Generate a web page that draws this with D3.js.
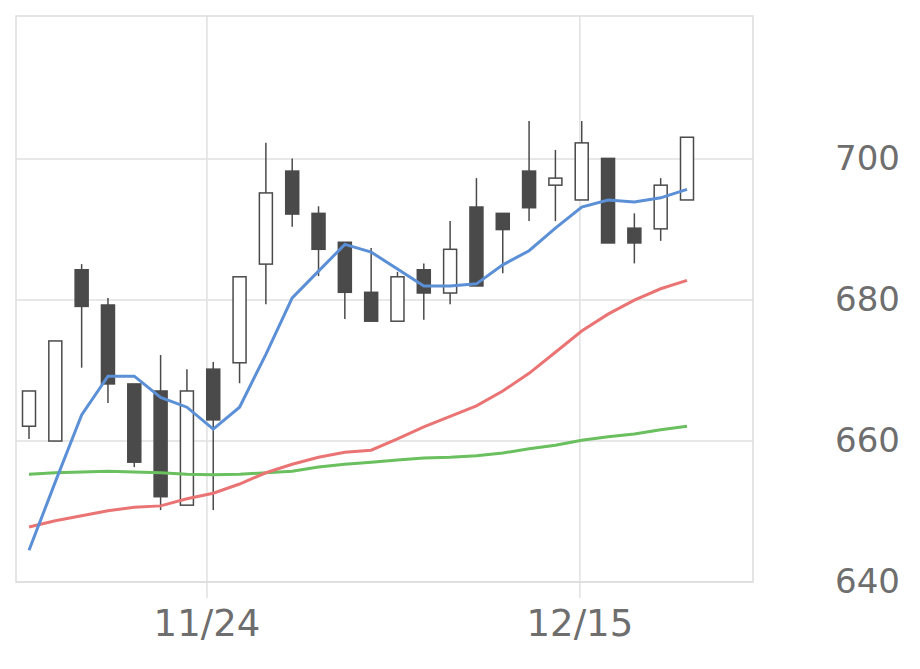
<!DOCTYPE html>
<html><head><meta charset="utf-8">
<script src="https://cdn.jsdelivr.net/npm/d3@7"></script>
<style>body{margin:0;background:#fff}</style>
</head><body><div id="chart"></div>
<script>
const opens  = [662.1,660,684.3,679.3,668.1,667.1,650.9,670.2,671.1,685.1,698.3,692.3,688.2,681.1,677,684.3,681,693.2,692.3,698.3,696.3,694.2,700.1,690.2,690.1,694.2];
const highs  = [667.1,674.2,685.1,680.3,668.1,672.2,670.2,671.2,683.3,702.3,700.1,693.3,688.2,687.4,684,685.2,691.2,697.3,692.3,705.4,701.3,705.4,700.1,692.3,697.3,703.1];
const lows   = [660.3,660,670.4,665.4,656.3,650.2,650.9,650.2,668.2,679.4,690.4,683.4,677.3,677,677,677.2,679.4,682,683.8,691.2,691.2,694.3,688.1,685.2,688.4,694.2];
const closes = [667.1,674.2,679.1,668.1,657,652.1,667.1,663,683.3,695.2,692.2,687.2,681.1,677,683.3,681,687.2,682,690,693.1,697.3,702.3,688.1,688.1,696.3,703.1];
const ma5  = [644.5,654.2,663.7,669.2,669.2,666.2,664.8,661.7,664.8,672.3,680.3,684.1,687.9,686.8,684.4,682.0,682.0,682.3,685.0,687.0,690.2,693.2,694.2,693.9,694.5,695.7];
const ma25 = [647.8,648.7,649.4,650.1,650.6,650.8,651.8,652.6,653.9,655.5,656.7,657.7,658.4,658.7,660.3,662.0,663.5,665.0,667.1,669.6,672.6,675.6,678.0,680.0,681.6,682.8];
const ma75 = [655.3,655.5,655.6,655.7,655.6,655.5,655.3,655.2,655.3,655.5,655.7,656.3,656.7,657.0,657.3,657.6,657.7,657.9,658.3,658.9,659.4,660.1,660.6,661.0,661.6,662.1];
const xTickPos = [6.76, 20.93];
const xTickLabels = ["11/24", "12/15"];
const yTicks = [640, 660, 680, 700];

const width = 920, height = 669;
const plotL = 16, plotR = 753, plotT = 16, plotB = 582;
const svg = d3.select("#chart").append("svg").attr("width", width).attr("height", height);

const x = d3.scaleLinear().domain([0, 25]).range([29, 687]);
const y = d3.scaleLinear().domain([640, 720.3]).range([plotB, plotT]);

// grid
svg.selectAll(".hg").data(yTicks).enter().append("line")
    .attr("x1", plotL).attr("x2", plotR)
    .attr("y1", d => y(d)).attr("y2", d => y(d))
    .attr("stroke", "#e0e0e0").attr("stroke-width", 1.5);
svg.selectAll(".vg").data(xTickPos).enter().append("line")
    .attr("x1", d => x(d)).attr("x2", d => x(d))
    .attr("y1", plotT).attr("y2", 598)
    .attr("stroke", "#e0e0e0").attr("stroke-width", 1.5);
svg.append("rect").attr("x", plotL).attr("y", plotT)
    .attr("width", plotR - plotL).attr("height", plotB - plotT)
    .attr("fill", "none").attr("stroke", "#dddddd").attr("stroke-width", 1.5);

// labels
svg.selectAll(".yl").data(yTicks).enter().append("text")
    .attr("x", 900).attr("y", d => y(d) + 11)
    .attr("text-anchor", "end").attr("fill", "#6e6e6e")
    .style("font", "34px 'DejaVu Sans'").text(d => d);
svg.selectAll(".xl").data(xTickPos).enter().append("text")
    .attr("x", d => x(d)).attr("y", 636)
    .attr("text-anchor", "middle").attr("fill", "#6e6e6e")
    .style("font", "37px 'DejaVu Sans'").text((d, i) => xTickLabels[i]);

// candles
const idx = d3.range(opens.length);
const bw = 13;
svg.selectAll(".wick").data(idx).enter().append("line")
    .attr("x1", i => x(i)).attr("x2", i => x(i))
    .attr("y1", i => y(highs[i])).attr("y2", i => y(lows[i]))
    .attr("stroke", "#4a4a4a").attr("stroke-width", 1.5);
svg.selectAll(".body").data(idx).enter().append("rect")
    .attr("x", i => x(i) - bw / 2)
    .attr("y", i => y(Math.max(opens[i], closes[i])))
    .attr("width", bw)
    .attr("height", i => Math.max(1, Math.abs(y(opens[i]) - y(closes[i]))))
    .attr("fill", i => closes[i] >= opens[i] ? "#fff" : "#4a4a4a")
    .attr("stroke", "#4a4a4a").attr("stroke-width", 1.5);

// moving averages
const line = d3.line().x((d, i) => x(i)).y(d => y(d));
[[ma75, "#6abf5e"], [ma25, "#ea7474"], [ma5, "#5b8fd6"]].forEach(([s, c]) => {
    svg.append("path").datum(s).attr("d", line)
        .attr("fill", "none").attr("stroke", c).attr("stroke-width", 3);
});
</script></body></html>
